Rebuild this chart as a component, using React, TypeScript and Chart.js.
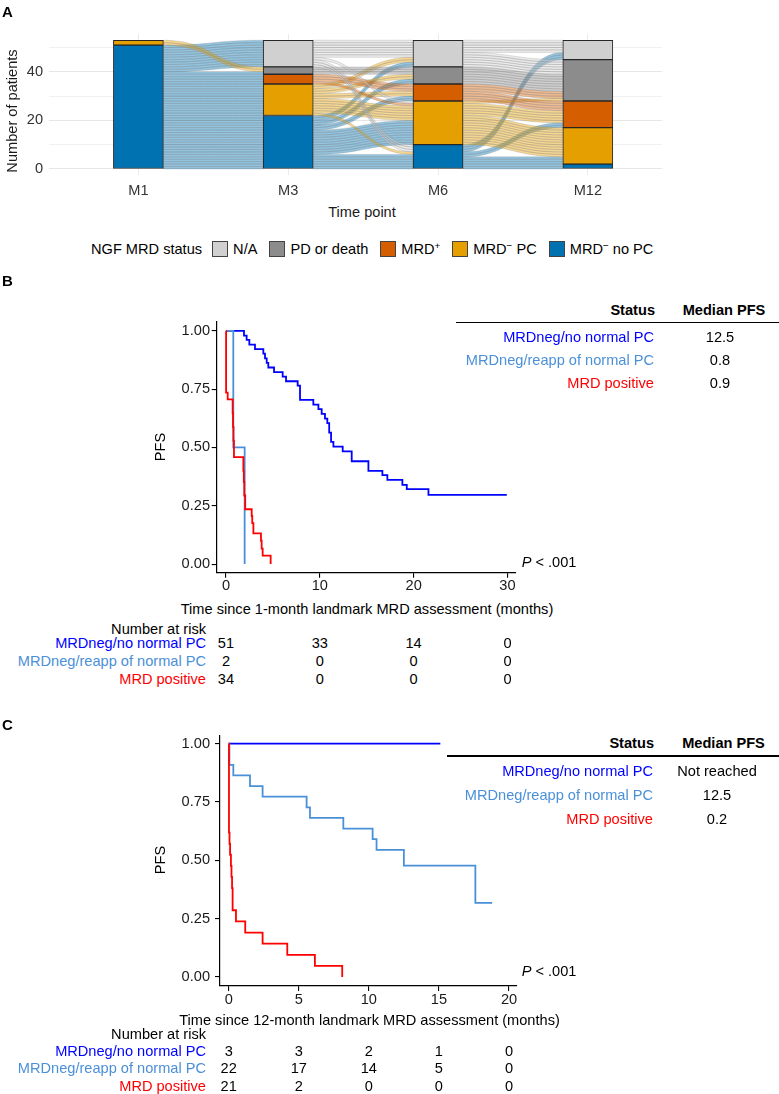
import React, { useEffect, useRef, useState } from "react";
import { Chart, registerables } from "chart.js";

Chart.register(...registerables);

const FONT = '"Liberation Sans", Arial, Helvetica, sans-serif';
const FS = 14.6;

// ---------------- Panel A: alluvial of NGF MRD status ----------------
const timePoints = ["M1", "M3", "M6", "M12"];
// strata listed bottom -> top
const statusLabels = ["MRD− no PC", "MRD− PC", "MRD+", "PD or death", "N/A"];
const statusColors = ["#0072B2", "#E69F00", "#D55E00", "#8C8C8C", "#D0D0D0"];
const nMRDnegNoPC = [51, 22, 10, 2];
const nMRDnegPC = [2, 13, 18, 15];
const nMRDpos = [0, 4, 7, 11];
const nPDdeath = [0, 3, 7, 17];
const nNA = [0, 11, 11, 8];
const yTicksA = [0, 10, 20, 30, 40, 50];

// transitions: rows = source stratum, cols = target stratum (noPC, PC, MRD+, PD, N/A)
const flowM1toM3 = [
  [22, 13, 4, 1, 11],
  [0, 0, 0, 2, 0],
  [0, 0, 0, 0, 0],
  [0, 0, 0, 0, 0],
  [0, 0, 0, 0, 0],
];
const flowM3toM6 = [
  [6, 10, 2, 2, 2],
  [1, 6, 2, 2, 2],
  [0, 1, 3, 0, 0],
  [0, 0, 0, 3, 0],
  [3, 1, 0, 0, 7],
];
const flowM6toM12 = [
  [2, 3, 2, 0, 3],
  [0, 12, 5, 1, 0],
  [0, 0, 4, 3, 0],
  [0, 0, 0, 7, 0],
  [0, 0, 0, 6, 5],
];

// ---------------- Panel B: 1-month landmark ----------------
const bNoPCTime = [0, 1.92, 2.2, 2.49, 3.09, 3.98, 4.16, 4.34, 4.51, 5.12, 6.04, 6.4, 7.64, 7.89, 9.31, 9.85, 10.2, 10.55, 10.8, 11.0, 11.2, 11.45, 12.44, 13.4, 15.18, 16.67, 17.2, 18.8, 19.27, 21.58, 29.93];
const bNoPCSurv = [1, 0.98, 0.961, 0.941, 0.922, 0.902, 0.882, 0.863, 0.843, 0.823, 0.804, 0.784, 0.765, 0.704, 0.684, 0.664, 0.644, 0.624, 0.604, 0.564, 0.524, 0.504, 0.483, 0.441, 0.4, 0.381, 0.361, 0.34, 0.321, 0.297, 0.297];
const bReappTime = [0, 0.78, 1.99];
const bReappSurv = [1, 0.5, 0];
const bPosTime = [0, 0.01, 0.18, 0.71, 0.75, 0.8, 0.85, 1.85, 1.9, 1.95, 2.05, 2.74, 2.8, 2.92, 3.73, 3.8, 3.91, 4.76];
const bPosSurv = [1, 0.735, 0.706, 0.647, 0.588, 0.529, 0.459, 0.4, 0.353, 0.294, 0.235, 0.206, 0.176, 0.132, 0.1, 0.066, 0.036, 0];
const bXTicks = [0, 10, 20, 30];
const bRiskNoPC = [51, 33, 14, 0];
const bRiskReapp = [2, 0, 0, 0];
const bRiskPos = [34, 0, 0, 0];
const bMedians = ["12.5", "0.8", "0.9"];

// ---------------- Panel C: 12-month landmark ----------------
const cNoPCTime = [0, 15.1];
const cNoPCSurv = [1, 1];
const cReappTime = [0, 0.05, 0.33, 1.52, 2.42, 5.56, 5.8, 8.18, 10.27, 10.55, 12.5, 17.6, 18.8];
const cReappSurv = [1, 0.909, 0.864, 0.818, 0.773, 0.727, 0.682, 0.636, 0.591, 0.545, 0.477, 0.318, 0.318];
const cPosTime = [0, 0.02, 0.06, 0.1, 0.16, 0.2, 0.24, 0.28, 0.52, 1.18, 2.42, 4.18, 6.15, 8.1];
const cPosSurv = [1, 0.619, 0.571, 0.524, 0.476, 0.429, 0.381, 0.286, 0.238, 0.19, 0.143, 0.095, 0.048, 0];
const cXTicks = [0, 5, 10, 15, 20];
const cRiskNoPC = [3, 3, 2, 1, 0];
const cRiskReapp = [22, 17, 14, 5, 0];
const cRiskPos = [21, 2, 0, 0, 0];
const cMedians = ["Not reached", "12.5", "0.2"];

const yTicksKM = [0, 0.25, 0.5, 0.75, 1];
const groupLabels = ["MRDneg/no normal PC", "MRDneg/reapp of normal PC", "MRD positive"];
const groupColors = ["#0000ff", "#4a90d9", "#ff0000"];

function rgba(hex: string, a: number) {
  const n = parseInt(hex.slice(1), 16);
  return `rgba(${(n >> 16) & 255},${(n >> 8) & 255},${n & 255},${a})`;
}

const BAR_W = 50;
const strataSeries = [nMRDnegNoPC, nMRDnegPC, nMRDpos, nPDdeath, nNA];
const transitions = [flowM1toM3, flowM3toM6, flowM6toM12];

const alluvialPlugin = {
  id: "alluvialFlows",
  beforeDatasetsDraw(chart: any) {
    const { ctx } = chart;
    const xs = chart.scales.x;
    const ys = chart.scales.y;
    const half = BAR_W / 2;
    ctx.save();
    transitions.forEach((mat, k) => {
      const xa = xs.getPixelForValue(k + 1) + half;
      const xb = xs.getPixelForValue(k + 2) - half;
      const xm = (xa + xb) / 2;
      const cum = (arr: number[]) => {
        let c = 0;
        return arr.map((v) => {
          const b = c;
          c += v;
          return b;
        });
      };
      const srcOff = cum(strataSeries.map((s) => s[k]));
      const tgtOff = cum(strataSeries.map((s) => s[k + 1]));
      const srcStart: number[][] = mat.map(() => []);
      const tgtStart: number[][] = mat.map(() => []);
      mat.forEach((row, s) =>
        row.forEach((n, t) => {
          srcStart[s][t] = srcOff[s];
          srcOff[s] += n;
        })
      );
      for (let t = 0; t < 5; t++) {
        for (let s = 0; s < 5; s++) {
          tgtStart[s][t] = tgtOff[t];
          tgtOff[t] += mat[s][t];
        }
      }
      mat.forEach((row, s) =>
        row.forEach((n, t) => {
          for (let u = 0; u < n; u++) {
            const a0 = ys.getPixelForValue(srcStart[s][t] + u);
            const a1 = ys.getPixelForValue(srcStart[s][t] + u + 1);
            const b0 = ys.getPixelForValue(tgtStart[s][t] + u);
            const b1 = ys.getPixelForValue(tgtStart[s][t] + u + 1);
            ctx.beginPath();
            ctx.moveTo(xa, a1);
            ctx.bezierCurveTo(xm, a1, xm, b1, xb, b1);
            ctx.lineTo(xb, b0);
            ctx.bezierCurveTo(xm, b0, xm, a0, xa, a0);
            ctx.closePath();
            ctx.fillStyle = rgba(statusColors[s], 0.42);
            ctx.fill();
            ctx.strokeStyle = "rgba(125,125,125,0.45)";
            ctx.lineWidth = 0.55;
            ctx.stroke();
          }
        })
      );
    });
    ctx.restore();
  },
};

function kmOptions(p: any) {
  const tickFont = { family: FONT, size: FS };
  return {
    animation: false,
    responsive: false,
    events: [],
    layout: { padding: p.pad },
    plugins: { legend: { display: false }, tooltip: { enabled: false } },
    scales: {
      x: {
        type: "linear",
        min: p.xMin,
        max: p.xMax,
        offset: false,
        afterBuildTicks: (s: any) => {
          s.ticks = p.xTicks.map((v: number) => ({ value: v }));
        },
        afterFit: (s: any) => {
          s.height = p.xHeight;
        },
        border: { display: true, color: "#000", width: 1.2 },
        grid: { display: true, offset: false, drawOnChartArea: false, drawTicks: true, tickLength: 5, color: "#000", lineWidth: 1.1 },
        ticks: { font: tickFont, color: "#1a1a1a", padding: p.xLabelPad, maxRotation: 0, autoSkip: false, callback: (v: any) => String(v) },
      },
      y: {
        type: "linear",
        min: p.yMin,
        max: p.yMax,
        afterBuildTicks: (s: any) => {
          s.ticks = yTicksKM.map((v) => ({ value: v }));
        },
        afterFit: (s: any) => {
          s.width = p.yWidth;
        },
        border: { display: true, color: "#000", width: 1.2 },
        grid: { display: true, offset: false, drawOnChartArea: false, drawTicks: true, tickLength: 5, color: "#000", lineWidth: 1.1 },
        ticks: { font: tickFont, color: "#1a1a1a", padding: p.yLabelPad, autoSkip: false, callback: (v: any) => Number(v).toFixed(2) },
      },
    },
  };
}

function kmDatasets(series: { t: number[]; s: number[]; color: string; order: number }[]) {
  return series.map((g) => ({
    data: g.t.map((t, i) => ({ x: t, y: g.s[i] })),
    borderColor: g.color,
    backgroundColor: g.color,
    borderWidth: 1.8,
    pointRadius: 0,
    stepped: "before",
    fill: false,
    order: g.order,
  }));
}

const TX = ({ x, y, align = "center", rot = false, style = {}, children }: any) => {
  const tx = align === "center" ? "-50%" : align === "right" ? "-100%" : "0";
  return (
    <div
      style={{
        position: "absolute",
        left: x,
        top: y,
        transform: `translate(${tx}, -50%)${rot ? " rotate(-90deg)" : ""}`,
        whiteSpace: "nowrap",
        lineHeight: 1,
        fontSize: FS,
        ...style,
      }}
    >
      {children}
    </div>
  );
};

const Sup = ({ children }: any) => (
  <span style={{ fontSize: "0.68em", position: "relative", top: "-0.5em", lineHeight: 0 }}>{children}</span>
);

const legendItems = [
  { color: statusColors[4], label: <>N/A</> },
  { color: statusColors[3], label: <>PD or death</> },
  { color: statusColors[2], label: <>MRD<Sup>+</Sup></> },
  { color: statusColors[1], label: <>MRD<Sup>−</Sup> PC</> },
  { color: statusColors[0], label: <>MRD<Sup>−</Sup> no PC</> },
];

export default function App() {
  const refA = useRef<HTMLCanvasElement>(null);
  const refB = useRef<HTMLCanvasElement>(null);
  const refC = useRef<HTMLCanvasElement>(null);
  const [posB, setPosB] = useState<number[]>([]);
  const [posC, setPosC] = useState<number[]>([]);

  useEffect(() => {
    document.body.style.margin = "0";
    const tickFontA = { family: FONT, size: FS };
    const chartA = new Chart(refA.current as any, {
      type: "bar",
      data: {
        datasets: strataSeries.map((arr, i) => ({
          label: statusLabels[i],
          data: arr.map((v, j) => ({ x: j + 1, y: v })),
          backgroundColor: statusColors[i],
          borderColor: "#262626",
          borderWidth: 1,
          borderSkipped: false,
          barThickness: BAR_W,
        })),
      },
      options: {
        animation: false,
        responsive: false,
        events: [],
        layout: { padding: { left: 0, top: 33.8, right: 117, bottom: 0 } },
        plugins: { legend: { display: false }, tooltip: { enabled: false } },
        scales: {
          x: {
            type: "linear",
            stacked: true,
            min: 0.4,
            max: 4.495,
            offset: false,
            afterBuildTicks: (s: any) => {
              s.ticks = timePoints.map((_, i) => ({ value: i + 1 }));
            },
            afterFit: (s: any) => {
              s.height = 24.6;
            },
            border: { display: false },
            grid: { display: true, offset: false, drawTicks: false, color: "#ebebeb", lineWidth: 1 },
            ticks: { font: tickFontA, color: "#333", padding: 7, maxRotation: 0, autoSkip: false, callback: (v: any) => timePoints[Math.round(v) - 1] },
          },
          y: {
            type: "linear",
            stacked: true,
            min: -2.65,
            max: 55.65,
            afterBuildTicks: (s: any) => {
              s.ticks = yTicksA.map((v) => ({ value: v }));
            },
            afterFit: (s: any) => {
              s.width = 48.5;
            },
            border: { display: false },
            grid: {
              display: true,
              drawTicks: false,
              color: (c: any) => (c.tick && c.tick.value % 20 === 0 ? "#e6e6e6" : "#eeeeee"),
              lineWidth: (c: any) => (c.tick && c.tick.value % 20 === 0 ? 1 : 0.8),
            },
            ticks: { font: tickFontA, color: "#333", padding: 5.5, autoSkip: false, callback: (v: any) => (v % 20 === 0 ? String(v) : "") },
          },
        },
      } as any,
      plugins: [alluvialPlugin],
    } as any);

    const chartB = new Chart(refB.current as any, {
      type: "line",
      data: {
        datasets: kmDatasets([
          { t: bPosTime, s: bPosSurv, color: groupColors[2], order: 0 },
          { t: bReappTime, s: bReappSurv, color: groupColors[1], order: 1 },
          { t: bNoPCTime, s: bNoPCSurv, color: groupColors[0], order: 2 },
        ]),
      } as any,
      options: kmOptions({
        xMin: -0.99,
        xMax: 30.88,
        xTicks: bXTicks,
        yMin: -0.037,
        yMax: 1.038,
        pad: { left: 0, top: 22, right: 14.3, bottom: 0 },
        yWidth: 66.7,
        xHeight: 27.3,
        yLabelPad: 1.7,
        xLabelPad: 0,
      }) as any,
    });

    const chartC = new Chart(refC.current as any, {
      type: "line",
      data: {
        datasets: kmDatasets([
          { t: cPosTime, s: cPosSurv, color: groupColors[2], order: 0 },
          { t: cReappTime, s: cReappSurv, color: groupColors[1], order: 1 },
          { t: cNoPCTime, s: cNoPCSurv, color: groupColors[0], order: 2 },
        ]),
      } as any,
      options: kmOptions({
        xMin: -0.62,
        xMax: 20.55,
        xTicks: cXTicks,
        yMin: -0.0386,
        yMax: 1.033,
        pad: { left: 0, top: 16, right: 13.3, bottom: 0 },
        yWidth: 70,
        xHeight: 34,
        yLabelPad: 5,
        xLabelPad: 0,
      }) as any,
    });

    setPosB(bXTicks.map((t) => 150 + chartB.scales.x.getPixelForValue(t)));
    setPosC(cXTicks.map((t) => 150 + chartC.scales.x.getPixelForValue(t)));

    return () => {
      chartA.destroy();
      chartB.destroy();
      chartC.destroy();
    };
  }, []);

  const riskRowsB = [bRiskNoPC, bRiskReapp, bRiskPos];
  const riskRowsC = [cRiskNoPC, cRiskReapp, cRiskPos];
  const rowYB = [643, 661, 679];
  const rowYC = [1050.7, 1068.3, 1086];
  const medYB = [336.7, 360, 383.3];
  const medYC = [771, 795, 819];

  return (
    <div style={{ position: "relative", width: 779, height: 1094, overflow: "hidden", fontFamily: FONT, color: "#000", background: "#fff" }}>
      <canvas ref={refA} width={779} height={200} style={{ position: "absolute", left: 0, top: 0 }} />
      <canvas ref={refB} width={380} height={300} style={{ position: "absolute", left: 150, top: 300 }} />
      <canvas ref={refC} width={380} height={300} style={{ position: "absolute", left: 150, top: 720 }} />

      {/* Panel A texts */}
      <TX x={7.5} y={10.5} style={{ fontWeight: "bold", fontSize: 15 }}>A</TX>
      <TX x={12} y={111} rot style={{ color: "#1a1a1a" }}>Number of patients</TX>
      <TX x={362} y={212} style={{ color: "#1a1a1a" }}>Time point</TX>
      <div style={{ position: "absolute", left: 91, top: 249, transform: "translateY(-50%)", display: "flex", alignItems: "center", fontSize: FS, whiteSpace: "nowrap", lineHeight: 1 }}>
        <span style={{ marginRight: 10 }}>NGF MRD status</span>
        {legendItems.map((it, i) => (
          <React.Fragment key={i}>
            <span style={{ display: "inline-block", width: 14, height: 14, background: it.color, border: "1px solid #444", marginRight: 5 }} />
            <span style={{ marginRight: i < legendItems.length - 1 ? 12 : 0 }}>{it.label}</span>
          </React.Fragment>
        ))}
      </div>

      {/* Panel B texts */}
      <TX x={7.5} y={280} style={{ fontWeight: "bold", fontSize: 15 }}>B</TX>
      <TX x={655} y={310} align="right" style={{ fontWeight: "bold" }}>Status</TX>
      <TX x={724} y={310} style={{ fontWeight: "bold" }}>Median PFS</TX>
      <div style={{ position: "absolute", left: 456, top: 321.5, width: 323, height: 1.6, background: "#000" }} />
      {groupLabels.map((g, i) => (
        <React.Fragment key={"bm" + i}>
          <TX x={654} y={medYB[i]} align="right" style={{ color: groupColors[i] }}>{g}</TX>
          <TX x={720} y={medYB[i]}>{bMedians[i]}</TX>
        </React.Fragment>
      ))}
      <TX x={521.7} y={562} align="left"><i>P</i> &lt; .001</TX>
      <TX x={159.5} y={447.3} rot>PFS</TX>
      <TX x={367} y={609}>Time since 1-month landmark MRD assessment (months)</TX>
      <TX x={206} y={629} align="right">Number at risk</TX>
      {groupLabels.map((g, i) => (
        <React.Fragment key={"br" + i}>
          <TX x={206} y={rowYB[i]} align="right" style={{ color: groupColors[i] }}>{g}</TX>
          {posB.length > 0 && riskRowsB[i].map((n, j) => (
            <TX key={j} x={posB[j]} y={rowYB[i]}>{n}</TX>
          ))}
        </React.Fragment>
      ))}

      {/* Panel C texts */}
      <TX x={7.5} y={724} style={{ fontWeight: "bold", fontSize: 15 }}>C</TX>
      <TX x={654} y={743.3} align="right" style={{ fontWeight: "bold" }}>Status</TX>
      <TX x={723.5} y={743.3} style={{ fontWeight: "bold" }}>Median PFS</TX>
      <div style={{ position: "absolute", left: 447, top: 755, width: 332, height: 1.6, background: "#000" }} />
      {groupLabels.map((g, i) => (
        <React.Fragment key={"cm" + i}>
          <TX x={653} y={medYC[i]} align="right" style={{ color: groupColors[i] }}>{g}</TX>
          <TX x={717} y={medYC[i]}>{cMedians[i]}</TX>
        </React.Fragment>
      ))}
      <TX x={521.7} y={970.8} align="left"><i>P</i> &lt; .001</TX>
      <TX x={159.5} y={860} rot>PFS</TX>
      <TX x={369.5} y={1020}>Time since 12-month landmark MRD assessment (months)</TX>
      <TX x={206} y={1034.3} align="right">Number at risk</TX>
      {groupLabels.map((g, i) => (
        <React.Fragment key={"cr" + i}>
          <TX x={206} y={rowYC[i]} align="right" style={{ color: groupColors[i] }}>{g}</TX>
          {posC.length > 0 && riskRowsC[i].map((n, j) => (
            <TX key={j} x={posC[j]} y={rowYC[i]}>{n}</TX>
          ))}
        </React.Fragment>
      ))}
    </div>
  );
}
